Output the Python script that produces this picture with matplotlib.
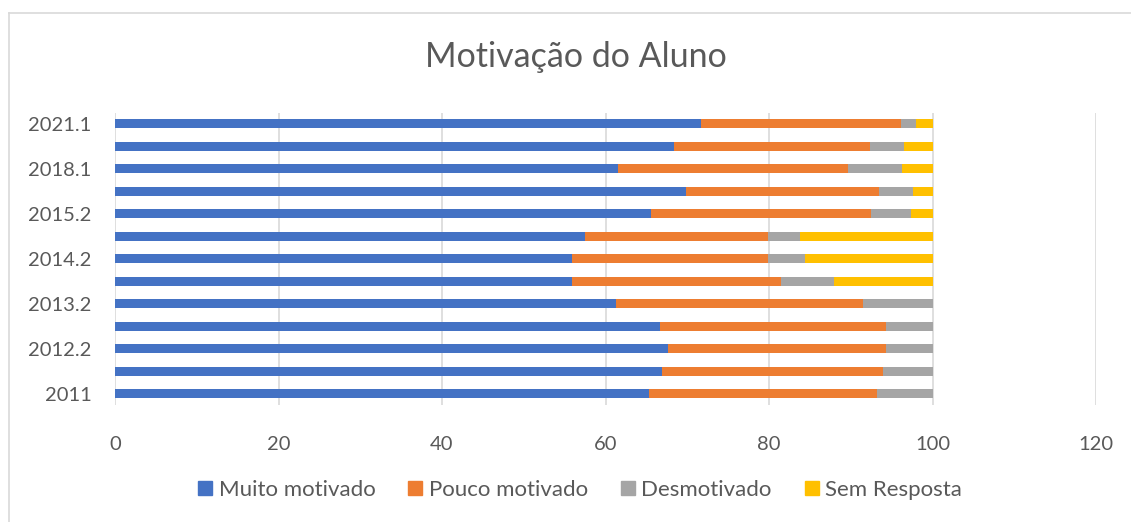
import numpy as np
import matplotlib.pyplot as plt
from matplotlib.lines import Line2D

plt.rcParams['font.family'] = ['Lato', 'DejaVu Sans']

# semesters, bottom to top (only every other label is shown in the chart)
semestres = ["2011", "2012.1", "2012.2", "2013.1", "2013.2", "2014.1", "2014.2",
             "2015.1", "2015.2", "2016.1", "2018.1", "2019.1", "2021.1"]

muito_motivado = [65.3, 66.9, 67.7, 66.7, 61.3, 55.9, 55.9, 57.5, 65.6, 69.9, 61.5, 68.4, 71.7]
pouco_motivado = [27.9, 27.0, 26.6, 27.6, 30.2, 25.6, 24.0, 22.4, 26.9, 23.6, 28.2, 23.9, 24.4]
desmotivado    = [6.8, 6.1, 5.7, 5.7, 8.5, 6.5, 4.5, 3.9, 4.9, 4.1, 6.6, 4.2, 1.9]
sem_resposta   = [0.0, 0.0, 0.0, 0.0, 0.0, 12.0, 15.6, 16.2, 2.6, 2.4, 3.7, 3.5, 2.0]

series = [muito_motivado, pouco_motivado, desmotivado, sem_resposta]
nomes = ["Muito motivado", "Pouco motivado", "Desmotivado", "Sem Resposta"]
cores = ["#4472C4", "#ED7D31", "#A5A5A5", "#FFC000"]
texto = "#595959"

fig = plt.figure(figsize=(11.31, 5.22), dpi=100)
ax = fig.add_axes([115 / 1131, 1 - 405 / 522, (1096 - 115) / 1131, (405 - 112.5) / 522])

y = np.arange(len(semestres))
esq = np.zeros(len(semestres))
for vals, nome, cor in zip(series, nomes, cores):
    ax.barh(y, vals, left=esq, height=0.4, color=cor, label=nome, zorder=3)
    esq += np.array(vals)

ax.set_xlim(0, 120)
ax.set_ylim(-0.5, len(semestres) - 0.5)
ax.set_xticks(np.arange(0, 121, 20))
ax.set_yticks(y[::2])
ax.set_yticklabels(semestres[::2])
ax.tick_params(axis='x', length=0, pad=22, labelsize=14.5, labelcolor=texto)
ax.tick_params(axis='y', length=0, pad=17, labelsize=14.5, labelcolor=texto)
ax.grid(axis='x', color="#D9D9D9", linewidth=1.2, zorder=0)
for s in ax.spines.values():
    s.set_visible(False)

fig.text(0.509, 0.891, "Motivação do Aluno", ha='center', va='center',
         fontsize=24.5, color=texto)

handles = [Line2D([], [], marker='s', linestyle='none', markersize=10.5,
                  markerfacecolor=c, markeredgecolor=c) for c in cores]
leg = fig.legend(handles, nomes, loc='center', bbox_to_anchor=(0.513, 0.061),
                 ncol=4, frameon=False, fontsize=16, handlelength=0.6,
                 handletextpad=0.3, columnspacing=1.5)
for t in leg.get_texts():
    t.set_color(texto)

# chart area border
fig.add_artist(Line2D([9 / 1131, 9 / 1131], [0, 1 - 13 / 522], color="#D9D9D9", lw=1.2))
fig.add_artist(Line2D([9 / 1131, 1], [1 - 13 / 522, 1 - 13 / 522], color="#D9D9D9", lw=1.2))

fig.savefig("out.png", dpi=100)
